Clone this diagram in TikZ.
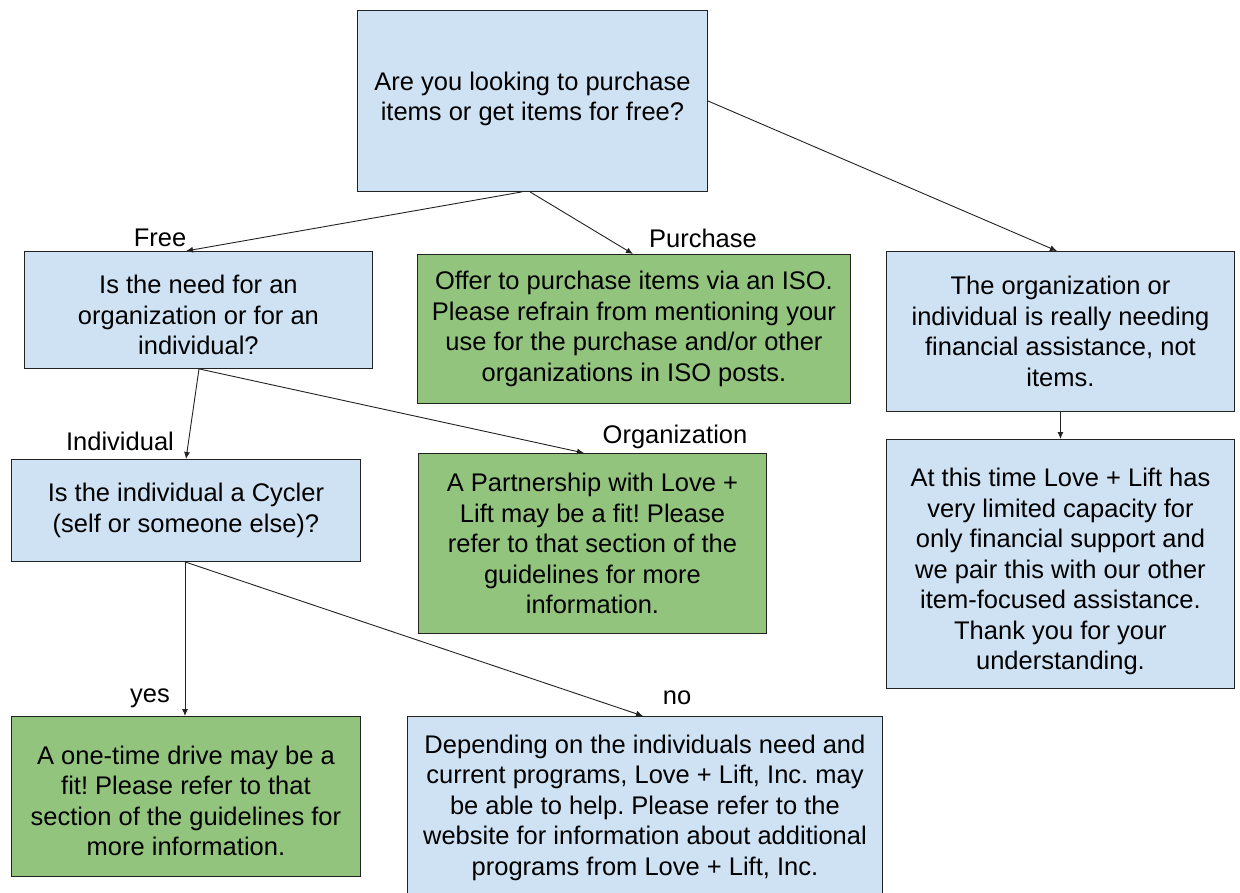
\documentclass[tikz,border=0pt]{standalone}
\usepackage{fontspec}
\setmainfont{Liberation Sans}
\frenchspacing
\usetikzlibrary{arrows.meta}
\definecolor{boxblue}{HTML}{CFE2F3}
\definecolor{boxgreen}{HTML}{93C47D}
\definecolor{edgegray}{HTML}{222222}
\tikzset{
  box/.style={draw=edgegray, line width=0.9pt, anchor=north west, align=center, inner sep=0pt,
    font=\fontsize{25.5}{30.5}\selectfont},
  bluebox/.style={box, fill=boxblue},
  greenbox/.style={box, fill=boxgreen},
  conn/.style={draw=edgegray, line width=0.9pt, -{Latex[length=7pt,width=6pt]}},
  lbl/.style={font=\fontsize{25.5}{30}\selectfont, inner sep=0pt}
}
\begin{document}
\begin{tikzpicture}[x=1pt,y=-1pt]
\useasboundingbox (0,0) rectangle (1240,893);
\node[bluebox, minimum width=350pt, minimum height=181pt] (top) at (357,10)
  {Are you looking to purchase\\items or get items for free?\\[-21pt]};
\node[bluebox, minimum width=348pt, minimum height=117pt] (free) at (24,251)
  {\rule{0pt}{29pt}Is the need for an\\organization or for an\\individual?};
\node[greenbox, minimum width=433pt, minimum height=149pt] (purchase) at (417,254)
  {Offer to purchase items via an ISO.\\Please refrain from mentioning your\\use for the purchase and/or other\\organizations in ISO posts.};
\node[bluebox, minimum width=348pt, minimum height=160pt] (fin) at (886,251)
  {The organization or\\individual is really needing\\financial assistance, not\\items.};
\node[bluebox, minimum width=348pt, minimum height=249pt] (fin2) at (886,439)
  {\rule{0pt}{34pt}At this time Love + Lift has\\very limited capacity for\\only financial support and\\we pair this with our other\\item-focused assistance.\\Thank you for your\\understanding.};
\node[bluebox, minimum width=349pt, minimum height=102pt] (cycler) at (11,459)
  {Is the individual a Cycler\\(self or someone else)?};
\node[greenbox, minimum width=348pt, minimum height=180pt] (partner) at (418,453)
  {A Partnership with Love +\\Lift may be a fit! Please\\refer to that section of the\\guidelines for more\\information.};
\node[greenbox, minimum width=349pt, minimum height=160pt] (yes) at (11,716)
  {\rule{0pt}{27pt}A one-time drive may be a\\fit! Please refer to that\\section of the guidelines for\\more information.};
\node[bluebox, minimum width=475pt, minimum height=177pt] (no) at (407,716)
  {\rule{0pt}{24pt}Depending on the individuals need and\\current programs, Love + Lift, Inc. may\\be able to help. Please refer to the\\website for information about additional\\programs from Love + Lift, Inc.};

\draw[conn] ([xshift=165pt]top.south west) -- ([xshift=162pt]free.north west);
\draw[conn] ([xshift=173pt]top.south west) -- ([xshift=216pt]purchase.north west);
\draw[conn] (top.east) -- ([xshift=171pt]fin.north west);
\draw[conn] (fin.south) -- (fin2.north);
\draw[conn] ([xshift=175pt]free.south west) -- ([xshift=175pt]cycler.north west);
\draw[conn] ([xshift=175pt]free.south west) -- ([xshift=166pt]partner.north west);
\draw[conn] ([xshift=174pt]cycler.south west) -- ([xshift=174pt]yes.north west);
\draw[conn] ([xshift=174pt]cycler.south west) -- ([xshift=236pt]no.north west);

\node[lbl] (lfree) at (160,238) {Free};
\node[lbl] (lpurchase) at (703,238) {Purchase};
\node[lbl] (lindiv) at (120,441) {Individual};
\node[lbl] (lorg) at (675,437) {Organization};
\node[lbl] (lyes) at (150,698) {yes};
\node[lbl] (lno) at (677,698) {no};
\end{tikzpicture}
\end{document}
